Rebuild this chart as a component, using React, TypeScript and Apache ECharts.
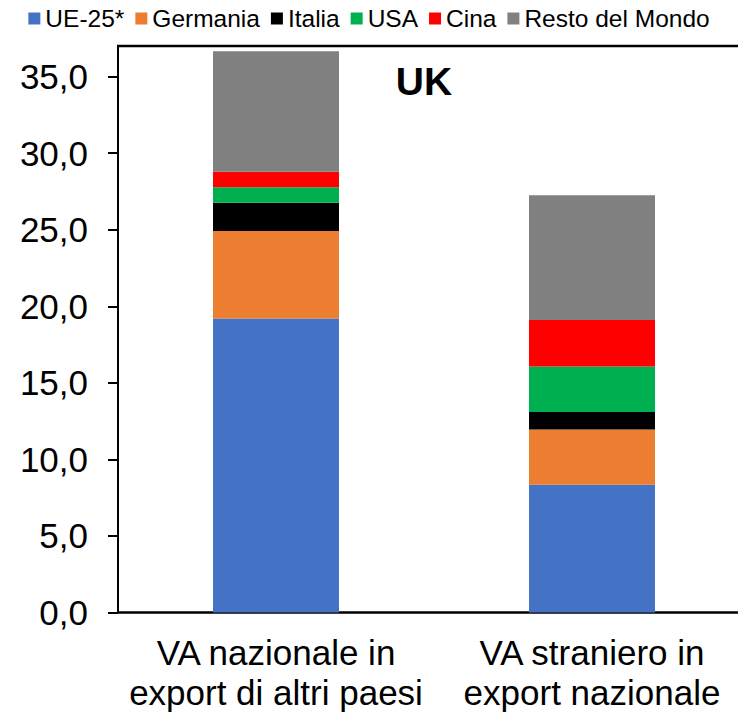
import React, { useEffect, useRef } from "react";
import * as echarts from "echarts";

const categories = ["VA nazionale in\nexport di altri paesi", "VA straniero in\nexport nazionale"];
const seriesNames = ["UE-25*", "Germania", "Italia", "USA", "Cina", "Resto del Mondo"];
const ue25 = [19.2, 8.34];
const germania = [5.71, 3.62];
const italia = [1.86, 1.14];
const usa = [1.01, 2.96];
const cina = [1.0, 3.04];
const resto = [7.88, 8.16];
const seriesValues = [ue25, germania, italia, usa, cina, resto];
const colors = ["#4472C4", "#ED7D31", "#000000", "#00B050", "#FF0000", "#808080"];
const yTicks = [0, 5, 10, 15, 20, 25, 30, 35];
const titleText = "UK";

const FONT = "'Liberation Sans', Arial, sans-serif";
const GRID_LEFT = 118;
const GRID_TOP = 46;

export default function App() {
  const ref = useRef<HTMLDivElement>(null);
  useEffect(() => {
    if (!ref.current) return;
    const chart = echarts.init(ref.current, undefined, { renderer: "svg" });
    chart.setOption({
      animation: false,
      textStyle: { fontFamily: FONT },
      legend: {
        top: 1,
        left: "center",
        icon: "rect",
        itemWidth: 12,
        itemHeight: 12,
        itemGap: 11,
        textStyle: { fontSize: 24.5, color: "#000", fontFamily: FONT },
        data: seriesNames,
      },
      grid: {
        left: GRID_LEFT,
        right: -12,
        top: GRID_TOP,
        bottom: 104.5,
        outerBoundsMode: "none",
        containLabel: false,
      },
      xAxis: {
        type: "category",
        data: categories,
        axisLine: { onZero: false, lineStyle: { color: "#000", width: 2.5 } },
        axisTick: { show: false },
        axisLabel: {
          interval: 0,
          hideOverlap: false,
          color: "#000",
          fontSize: 35,
          lineHeight: 40,
          margin: 20,
          fontFamily: FONT,
        },
      },
      yAxis: {
        type: "value",
        min: 0,
        max: 37,
        interval: 5,
        splitLine: { show: false },
        axisLine: { show: true, lineStyle: { color: "#000", width: 2 } },
        axisTick: {
          show: true,
          length: 10,
          lineStyle: { color: "#000", width: 2 },
          customValues: yTicks,
        },
        axisLabel: {
          color: "#000",
          fontSize: 35,
          margin: 30,
          fontFamily: FONT,
          customValues: yTicks,
          formatter: (v: number) => v.toFixed(1).replace(".", ","),
        },
      },
      graphic: [
        {
          type: "rect",
          x: GRID_LEFT - 1,
          y: GRID_TOP - 1.25,
          shape: { x: 0, y: 0, width: 738 - GRID_LEFT + 1, height: 2.5 },
          style: { fill: "#000" },
          z: 100,
        },
        {
          type: "text",
          x: 424,
          y: 81,
          style: {
            text: titleText,
            fontSize: 39,
            fontWeight: "bold",
            fontFamily: FONT,
            fill: "#000",
            textAlign: "center",
            textVerticalAlign: "middle",
          },
        },
      ],
      series: seriesNames.map((name, i) => ({
        name,
        type: "bar",
        stack: "total",
        barWidth: 126,
        itemStyle: { color: colors[i] },
        data: seriesValues[i],
      })),
    });
    return () => chart.dispose();
  }, []);
  return (
    <div
      ref={ref}
      style={{ position: "fixed", left: 0, top: 0, width: 738, height: 717, background: "#fff" }}
    />
  );
}
